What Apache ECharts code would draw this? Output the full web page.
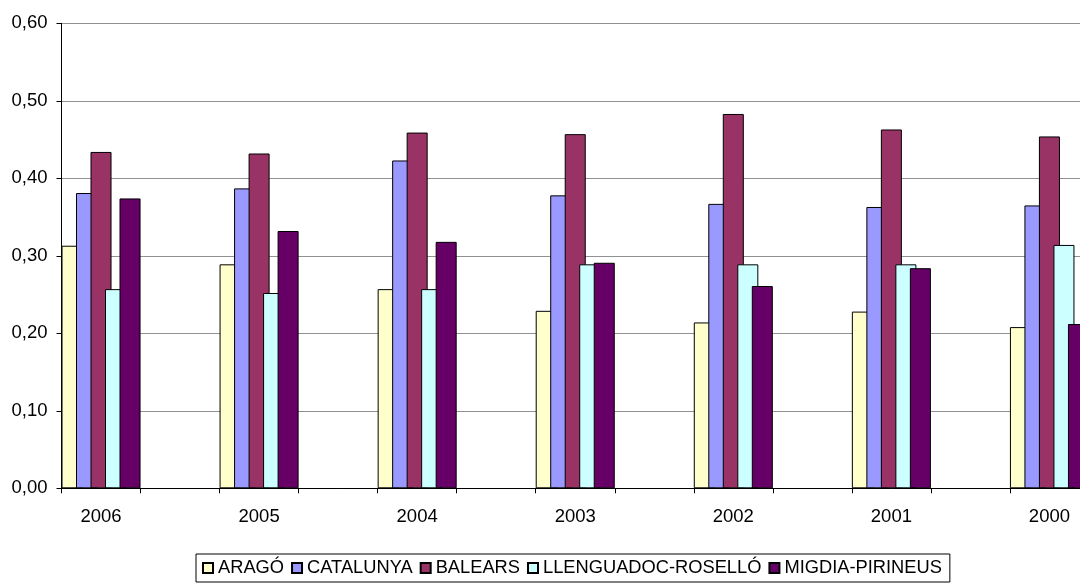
<!DOCTYPE html>
<html>
<head>
<meta charset="utf-8">
<script src="https://cdn.jsdelivr.net/npm/echarts@6/dist/echarts.min.js"></script>
<style>
  html, body { margin: 0; padding: 0; background: #fff; overflow: hidden; width: 1080px; height: 585px; }
  /* the plot runs past the right edge of the page */
  #chart { width: 1170px; height: 585px; }
</style>
</head>
<body>
<div id="chart"></div>
<script>
// Years shown on the category axis (each year followed by an empty slot)
const years = ['2006', '2005', '2004', '2003', '2002', '2001', '2000'];

// Values per region
const arago      = [0.313, 0.289, 0.257, 0.229, 0.214, 0.228, 0.208];
const catalunya  = [0.381, 0.387, 0.423, 0.378, 0.367, 0.363, 0.365];
const balears    = [0.434, 0.432, 0.459, 0.457, 0.483, 0.463, 0.454];
const llenguadoc = [0.257, 0.252, 0.257, 0.289, 0.289, 0.289, 0.314];
const migdia     = [0.374, 0.332, 0.318, 0.291, 0.261, 0.284, 0.212];

const seriesNames  = ['ARAGÓ', 'CATALUNYA', 'BALEARS', 'LLENGUADOC-ROSELLÓ', 'MIGDIA-PIRINEUS'];
const seriesValues = [arago, catalunya, balears, llenguadoc, migdia];
const seriesColors = ['#FFFFCC', '#9999FF', '#993366', '#CCFFFF', '#660066'];

// Interleave an empty slot after each year
const categories = [];
years.forEach(y => { categories.push(y); categories.push(''); });
const spread = vals => {
  const out = [];
  vals.forEach(v => { out.push(v); out.push(null); });
  return out;
};

const font = 'Liberation Sans, Arial, sans-serif';
const chart = echarts.init(document.getElementById('chart'), null, { renderer: 'canvas' });

chart.setOption({
  animation: false,
  backgroundColor: '#ffffff',
  grid: { left: 61.5, top: 23.3, right: 2, bottom: 96.7, containLabel: false },
  xAxis: {
    type: 'category',
    data: categories,
    boundaryGap: true,
    axisLine: { show: true, lineStyle: { color: '#000', width: 1 } },
    axisTick: { show: true, length: 5, interval: 0, lineStyle: { color: '#000' } },
    axisLabel: { interval: 0, margin: 19, color: '#000', fontFamily: font, fontSize: 18.5 },
    splitLine: { show: false }
  },
  yAxis: {
    type: 'value',
    min: 0, max: 0.6, interval: 0.1,
    axisLine: { show: true, lineStyle: { color: '#000', width: 1 } },
    axisTick: { show: true, length: 5, lineStyle: { color: '#000' } },
    axisLabel: {
      margin: 14, color: '#000', fontFamily: font, fontSize: 18.5,
      formatter: v => v.toFixed(2).replace('.', ',')
    },
    splitLine: { show: true, lineStyle: { color: '#222', type: [1, 1], width: 1 } }
  },
  legend: {
    left: 196, top: 554,
    padding: [5, 8, 5, 6],
    borderColor: '#000', borderWidth: 1,
    itemWidth: 10, itemHeight: 10, itemGap: 7,
    icon: 'rect',
    textStyle: { color: '#000', fontFamily: font, fontSize: 18.3 },
    data: seriesNames
  },
  series: seriesNames.map((name, i) => ({
    name: name,
    type: 'bar',
    data: spread(seriesValues[i]),
    barCategoryGap: 0,
    barGap: '-31%',
    itemStyle: { color: seriesColors[i], borderColor: '#000', borderWidth: 1 }
  }))
});
</script>
</body>
</html>
